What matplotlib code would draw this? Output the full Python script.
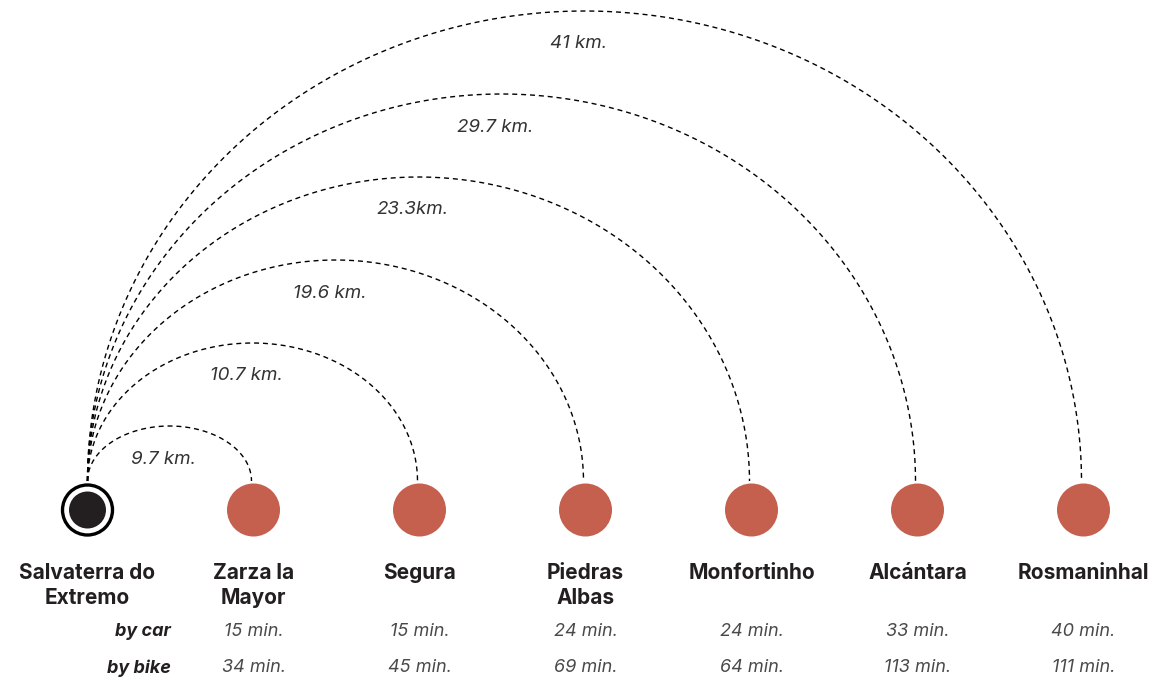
import numpy as np
import matplotlib.pyplot as plt
from matplotlib.patches import Circle

plt.rcParams['font.family'] = ['Inter', 'DejaVu Sans']

origin = "Salvaterra do\nExtremo"
towns = ["Zarza la\nMayor", "Segura", "Piedras\nAlbas", "Monfortinho", "Alcántara", "Rosmaninhal"]
distances = ["9.7 km.", "10.7 km.", "19.6 km.", "23.3km.", "29.7 km.", "41 km."]
car_min = [15, 15, 24, 24, 33, 40]
bike_min = [34, 45, 69, 64, 113, 111]

red = '#c4604d'
dark = '#231f20'

fig = plt.figure(figsize=(11.55, 6.78), dpi=100)
ax = fig.add_axes([0, 0, 1, 1])
ax.set_xlim(0, 1155)
ax.set_ylim(678, 0)
ax.axis('off')

x0 = 87.5
step = 166.0
cy = 510
base = 481

# origin marker
ax.add_patch(Circle((x0, cy), 25, facecolor='white', edgecolor='black', lw=2.4, zorder=3))
ax.add_patch(Circle((x0, cy), 18.5, facecolor=dark, edgecolor='none', zorder=4))
ax.text(x0, 563, origin, ha='center', va='top', fontsize=15, fontweight='bold',
        color=dark, linespacing=1.3)

ax.text(171, 632, "by car", ha='right', va='center', fontsize=13, fontweight='bold',
        style='italic', color=dark)
ax.text(171, 668, "by bike", ha='right', va='center', fontsize=13, fontweight='bold',
        style='italic', color=dark)

t = np.linspace(np.pi, 0, 300)
for i, name in enumerate(towns):
    xd = x0 + step * (i + 1)
    ax.add_patch(Circle((xd, cy), 26.5, facecolor=red, edgecolor='none', zorder=3))
    ax.text(xd, 563, name, ha='center', va='top', fontsize=15, fontweight='bold',
            color=dark, linespacing=1.3)
    ax.text(xd, 632, f"{car_min[i]} min.", ha='center', va='center', fontsize=13,
            style='italic', color='#4a4a4a')
    ax.text(xd, 668, f"{bike_min[i]} min.", ha='center', va='center', fontsize=13,
            style='italic', color='#4a4a4a')

    # dashed arc from origin to town
    a = (xd - 2 - x0) / 2
    b = a - 27
    cx = x0 + a
    ax.plot(cx + a * np.cos(t), base - b * np.sin(t), color='black', lw=1.0,
            linestyle=(0, (3.6, 2.8)), zorder=2)
    ax.text(cx - 6, base - b + 33, distances[i], ha='center', va='center', fontsize=13.5,
            style='italic', color='#333333')

fig.savefig('out.png', dpi=100)
